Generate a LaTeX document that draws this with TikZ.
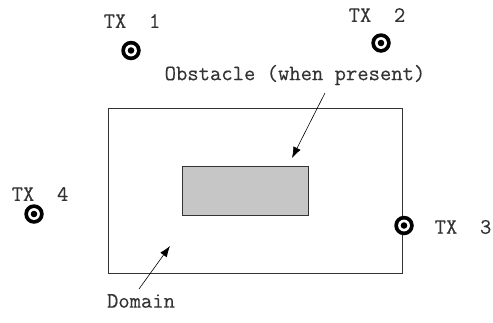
\documentclass[tikz,border=0pt]{standalone}
\usepackage{fontspec}
\newfontfamily\lblfont{Latin Modern Mono}[FakeBold=0.3]
\usetikzlibrary{arrows.meta}
\definecolor{ink}{gray}{0.2}
\tikzset{
  lbl/.style={font=\lblfont\fontsize{22}{22}\selectfont, text=ink, inner sep=0pt},
  tx/.style={circle, fill=black, minimum size=19.5pt, inner sep=0pt,
    path picture={\fill[white] (path picture bounding box.center) circle (5.9pt);
                  \fill[black] (path picture bounding box.center) circle (3.3pt);}},
  frame/.style={draw=ink, line width=0.8pt},
  ptr/.style={draw=black, line width=0.6pt, -{Latex[length=11pt,width=8pt]}}
}
\begin{document}
\begin{tikzpicture}[x=1pt,y=-1pt]
\useasboundingbox (0,0) rectangle (493,322);
\node[frame, minimum width=294pt, minimum height=165pt, inner sep=0pt] (dom) at (255,190.5) {};
\node[frame, fill=gray!45, minimum width=126pt, minimum height=49pt, inner sep=0pt] (obs) at (245,190.5) {};
\node[tx] (t1) at (131,50.5) {};
\node[tx] (t2) at (381,43) {};
\node[tx] (t3) at (404,225.5) {};
\node[tx] (t4) at (34,214) {};
\node[lbl] (l1) at (132,21) {TX\ \ 1};
\node[lbl] (l2) at (377,15) {TX\ \ 2};
\node[lbl] (l3) at (463,227) {TX\ \ 3};
\node[lbl] (l4) at (40,194) {TX\ \ 4};
\node[lbl] (lo) at (295,75) {Obstacle (when present)};
\node[lbl] (ld) at (141,301) {Domain};
\coordinate (ao) at (325,93);
\coordinate (ad) at (139,289);
\draw[ptr] (ao) -- (292,158);
\draw[ptr] (ad) -- (170,246);
\end{tikzpicture}
\end{document}
